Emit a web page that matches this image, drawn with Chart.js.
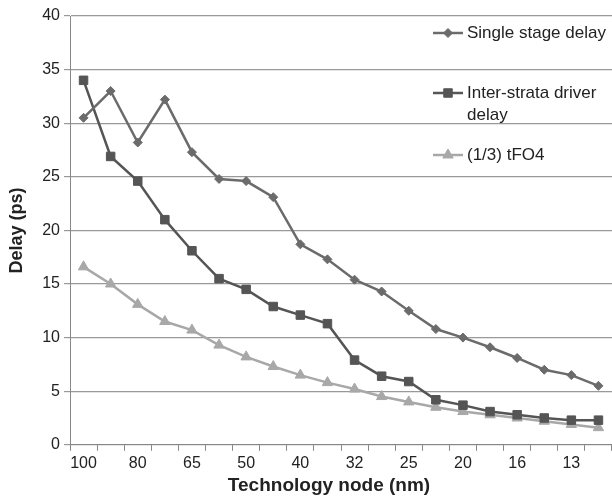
<!DOCTYPE html>
<html>
<head>
<meta charset="utf-8">
<script src="https://cdn.jsdelivr.net/npm/chart.js@4.4.0/dist/chart.umd.min.js"></script>
<style>
  html, body { margin: 0; padding: 0; background: #fff; overflow: hidden; }
  #wrap { width: 612px; height: 500px; position: relative; }
  canvas { display: block; }
</style>
</head>
<body>
<div id="wrap"><canvas id="chart"></canvas></div>
<script>
// technology nodes (only every other one is labelled on the axis)
const nodes = ['100', '90', '80', '72', '65', '57', '50', '45', '40', '36',
  '32', '28', '25', '22', '20', '18', '16', '14', '13', '11'];

const singleStage = [30.5, 33.0, 28.2, 32.2, 27.3, 24.8, 24.6, 23.1, 18.7, 17.3,
  15.4, 14.3, 12.5, 10.8, 10.0, 9.1, 8.1, 7.0, 6.5, 5.5];
const interStrata = [34.0, 26.9, 24.6, 21.0, 18.1, 15.5, 14.5, 12.9, 12.1, 11.3,
  7.9, 6.4, 5.9, 4.2, 3.7, 3.1, 2.8, 2.5, 2.3, 2.3];
const tfo4 = [16.6, 15.0, 13.1, 11.5, 10.7, 9.3, 8.2, 7.3, 6.5, 5.8,
  5.2, 4.5, 4.0, 3.5, 3.1, 2.8, 2.5, 2.2, 1.9, 1.6];

const legendItems = [
  { lines: ['Single stage delay'], color: '#6b6b6b', style: 'rectRot', r: 4.5 },
  { lines: ['Inter-strata driver', 'delay'], color: '#555555', style: 'rect', r: 6 },
  { lines: ['(1/3) tFO4'], color: '#a8a8a8', style: 'triangle', r: 6 },
];

const font = 'Liberation Sans, Arial, sans-serif';

// legend drawn inside the plot, over the gridlines, like the original;
// x axis title drawn here too so it can sit a little left of centre
const extrasPlugin = {
  id: 'extras',
  afterDraw(chart) {
    const ctx = chart.ctx;
    const rows = [33, 93, 155];
    ctx.save();
    ctx.font = '17px ' + font;
    ctx.textBaseline = 'middle';
    legendItems.forEach((item, i) => {
      const y = rows[i];
      ctx.strokeStyle = item.color;
      ctx.lineWidth = 2.5;
      ctx.beginPath();
      ctx.moveTo(433, y);
      ctx.lineTo(463, y);
      ctx.stroke();
      ctx.fillStyle = item.color;
      ctx.lineWidth = 1;
      Chart.helpers.drawPoint(ctx, {
        pointStyle: item.style, radius: item.r, rotation: 0, borderWidth: 1
      }, 448, y);
      ctx.fillStyle = '#222';
      item.lines.forEach((t, j) => ctx.fillText(t, 467, y + j * 22));
    });

    ctx.font = 'bold 19px ' + font;
    ctx.textAlign = 'center';
    ctx.fillText('Technology node (nm)', 329, 486);
    ctx.restore();
  }
};

function series(label, data, color, style, r) {
  return {
    label: label,
    data: data,
    borderColor: color,
    backgroundColor: color,
    borderWidth: 2.5,
    pointStyle: style,
    pointRadius: r,
    pointHoverRadius: r,
    pointBorderWidth: 1,
    tension: 0,
  };
}

new Chart(document.getElementById('chart'), {
  type: 'line',
  data: {
    labels: nodes,
    datasets: [
      series('Single stage delay', singleStage, '#6b6b6b', 'rectRot', 4.5),
      series('Inter-strata driver delay', interStrata, '#555555', 'rect', 6),
      series('(1/3) tFO4', tfo4, '#a8a8a8', 'triangle', 6),
    ],
  },
  options: {
    responsive: true,
    maintainAspectRatio: false,
    animation: false,
    layout: { autoPadding: false, padding: { top: 16, right: -4, left: 6, bottom: 24 } },
    plugins: {
      legend: { display: false },
      tooltip: { enabled: false },
    },
    scales: {
      x: {
        offset: true,
        grid: {
          offset: true,
          drawOnChartArea: false,
          drawTicks: true,
          tickLength: 6,
          color: '#888',
        },
        border: { color: '#888', width: 1 },
        ticks: {
          autoSkip: false,
          maxRotation: 0,
          color: '#222',
          font: { family: font, size: 16 },
          padding: 3,
          callback: function (v, i) { return i % 2 === 0 ? this.getLabelForValue(v) : ''; },
        },
      },
      y: {
        min: 0,
        max: 40,
        grid: { color: '#999', tickLength: 6, lineWidth: 1.2 },
        border: { color: '#888', width: 1 },
        ticks: {
          stepSize: 5,
          color: '#222',
          font: { family: font, size: 16 },
          padding: 4,
        },
        title: {
          display: true,
          text: 'Delay (ps)',
          color: '#222',
          font: { family: font, size: 18, weight: 'bold' },
          padding: { top: 0, bottom: 4 },
        },
        afterFit(scale) { scale.width = 64; },
      },
    },
  },
  plugins: [extrasPlugin],
});
</script>
</body>
</html>
